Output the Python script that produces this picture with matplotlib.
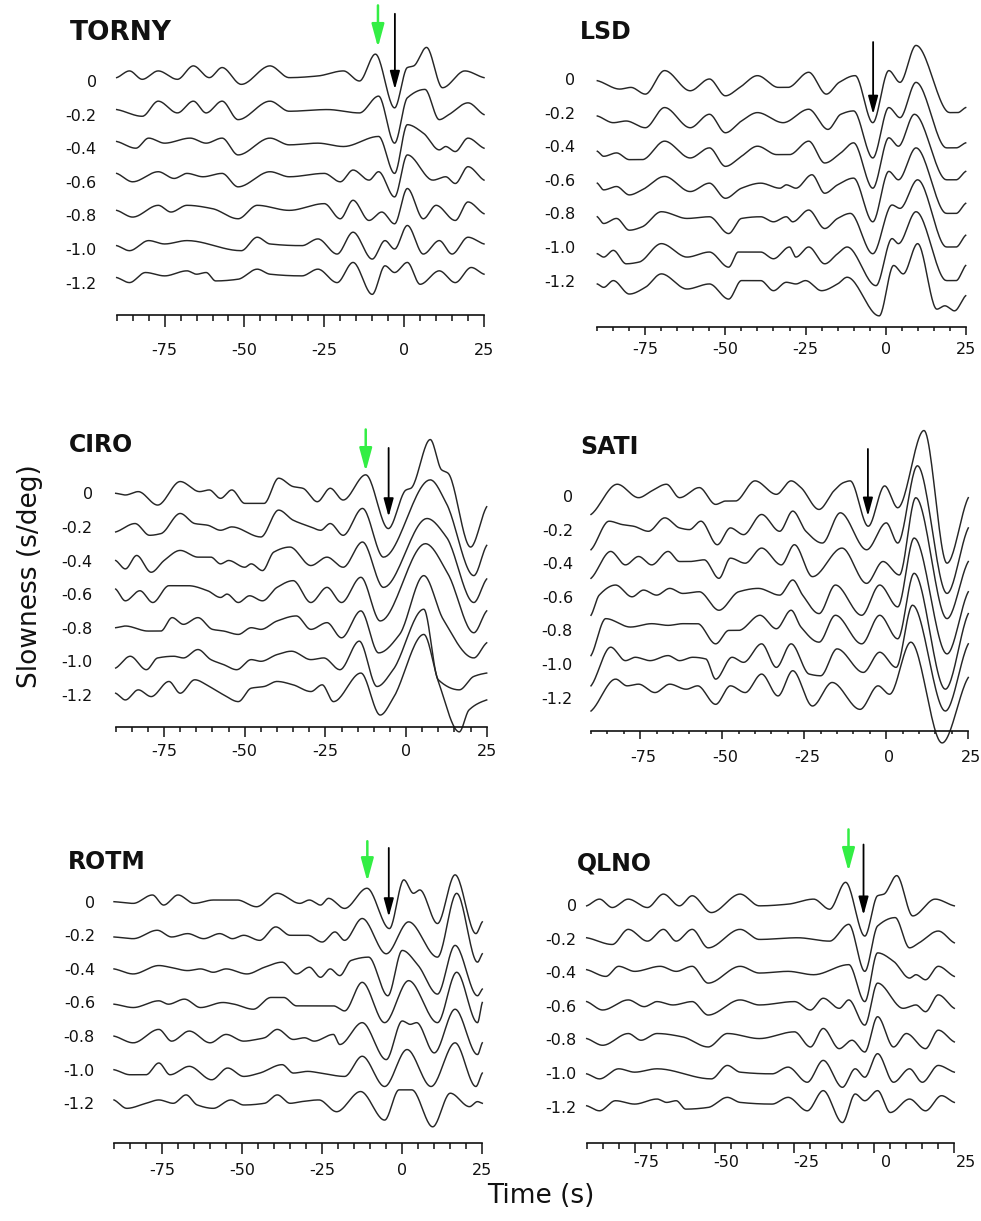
import numpy as np
import matplotlib
matplotlib.use("Agg")
import matplotlib.pyplot as plt
from matplotlib.transforms import ScaledTranslation

# slowness rows (s/deg) and their labels
slowness = [0, -0.2, -0.4, -0.6, -0.8, -1.0, -1.2]
slow_labels = ["0", "-0.2", "-0.4", "-0.6", "-0.8", "-1.0", "-1.2"]
time_major = [-75, -50, -25, 0, 25]
time_minor = list(range(-90, 26, 5))

# traces: knot times (s) and amplitudes (0.01 s/deg) read at the wiggle extrema
torny_t = [
    [-90, -86, -82, -77, -71, -66, -61, -57, -51, -42, -36, -27, -19, -14, -9, -3, 1, 3, 7, 12, 19, 25],
    [-90, -82, -77, -71, -66, -62, -57, -52, -42, -36, -24, -14, -8, -3, 1, 6.5, 11, 14, 20, 25],
    [-90, -84, -80, -75, -67, -62, -57, -52, -42, -36, -27, -19, -8, -3, 1, 6, 11, 13, 16, 20, 25],
    [-90, -85, -77, -72, -68, -63, -57, -52, -42, -36, -25, -20, -16, -11, -8, -3, 1, 9, 13, 16, 20, 25],
    [-90, -85, -77, -73, -68, -60, -52, -46, -36, -25, -20, -16, -11, -7, -3, 1, 6, 10, 16, 20, 25],
    [-90, -86, -80, -75, -68, -51, -46, -42, -32, -27, -21, -16, -10, -6, -3, 1, 6, 11, 15, 20, 25],
    [-90, -86, -81, -75, -68, -65, -62, -59, -52, -46, -42, -32, -27, -21, -16, -10, -6, -3, 1, 5, 11, 16, 21, 25],
]
torny_a = [
    [2, 6, 1, 6, 1, 9, 2, 8, -2, 9, 2, 3, 6, 0, 16, -16, 8, 9, 20, -4, 6, 2],
    [3, -1, 8, 1, 8, 1, 8, -3, 8, 2, 3, 1, 11, -17, 10, 15, -3, 0, 7, 0],
    [4, 0, 6, 3, 6, 3, 6, -4, 6, 2, 3, 1, 7, -15, 14, 9, -1, 1, -2, 6, 0],
    [5, 0, 6, 2, 5, 3, 5, -3, 6, 3, 5, 0, 7, 1, 6, -9, 16, 1, 3, -1, 9, 1],
    [3, -1, 6, 2, 6, 4, -2, 6, 3, 7, -2, 9, -3, 2, -5, 16, -2, 6, -3, 8, 1],
    [2, -1, 5, 3, 5, -1, 7, 3, 2, 6, -3, 10, -6, 5, 0, 14, -3, 5, -3, 7, 3],
    [3, 0, 6, 4, 7, 5, 6, 1, 2, 8, 5, 4, 8, 0, 12, -7, 10, 6, 12, -1, 7, 0, 9, 5],
]

lsd_t = [
    [-90, -83, -79.5, -75, -69, -61, -55, -50, -45.5, -40, -33.5, -30.5, -24, -18.5, -14.5, -9.5, -4, 1, 4.5, 9.5, 20, 22.5, 25],
    [-90, -85, -81, -75, -69, -61, -55, -50, -45, -40, -32, -24, -18, -14, -10, -4, 1, 4.5, 9.5, 19, 22, 25],
    [-90, -88, -84, -80, -76, -69, -61, -55, -50, -45, -40, -34, -30, -24, -19, -14, -10, -4, 1, 4, 9, 19, 22, 25],
    [-90, -88, -84, -80, -76, -69, -61, -55, -50, -45, -39, -33, -31, -28, -23, -19, -15, -10, -4, 1, 4, 9.5, 19, 22, 25],
    [-90, -88, -84, -80, -76, -70, -62, -55, -49, -45, -39, -35, -31, -29, -24, -19, -15, -11, -4, 2, 4.5, 10, 19, 22, 25],
    [-90, -88, -85, -81, -77, -70, -62, -55, -49, -46, -39, -35, -30, -28, -24, -19, -15, -12, -3, 2, 4, 9.5, 19, 22, 25],
    [-90, -88, -85, -80, -75, -70, -62, -55, -49, -45, -39, -35, -31, -28, -25, -20, -15, -12, -2, 2.5, 5.5, 10, 16, 18.5, 21.5, 25],
]
lsd_a = [
    [-1, -6, -5, -9, 5, -7, 0, -10, -5, 2, -5, -5, 4, -9, -2, 2, -26, 5, -2, 20, -20, -20, -17],
    [-2, -6, -5, -9, 3, -9, -1, -12, -5, 0, -6, 2, -10, -1, 1, -27, 3, -3, 18, -21, -21, -18],
    [-3, -6, -4, -8, -8, 3, -7, -1, -12, -6, 0, -5, -5, 3, -10, -4, 2, -25, 5, 0, 19, -20, -20, -15],
    [-2, -6, -4, -9, -6, 2, -7, -2, -11, -5, -2, -5, -3, -5, 3, -8, -3, 1, -25, 5, 0, 19, -20, -20, -14],
    [-2, -6, -3, -10, -8, 1, -3, -2, -12, -3, -2, -5, -2, -5, 2, -9, -3, 0, -24, 5, 3, 20, -20, -20, -13],
    [-4, -6, -2, -10, -9, 2, -6, -3, -12, -3, -3, -7, 0, -6, 0, -10, -4, 0, -23, 5, 2, 21, -20, -20, -11],
    [-2, -4, 0, -8, -4, 4, -5, -2, -11, 0, 0, -6, -1, -2, 0, -6, -2, 2, -21, 9, 4, 22, -17, -15, -18, -9],
]

ciro_t = [
    [-90, -87, -83, -77, -70, -64, -61, -57.5, -54, -50, -44, -39.5, -35, -32, -27.5, -23.5, -19.5, -12.5, -5.5, 0, 1.5, 7.5, 11, 13, 20, 25],
    [-90, -84, -79.5, -76, -70, -65.5, -61.5, -57.5, -54, -45, -39.5, -35, -29.5, -26.5, -23.5, -19.5, -13.5, -7, 7.5, 12.5, 21, 25],
    [-90, -87, -83.5, -79, -75, -70, -64.5, -60.5, -57.5, -55, -50, -48, -44.5, -41, -36, -29.5, -24.5, -19.5, -13.5, -7, 6.5, 12.5, 21, 25],
    [-90, -87, -82.5, -78.5, -73.5, -67.5, -61.5, -57.5, -55.5, -52, -48.5, -44.5, -40, -35, -29.5, -24.5, -20, -14, -8, 6, 13, 21, 25],
    [-90, -87, -80, -76, -72.5, -69, -64.5, -60, -56.5, -52, -48, -45, -40, -34, -29.5, -24.5, -20, -14, -8.5, -2, 5.5, 11.5, 21, 25],
    [-90, -85.5, -80.5, -77, -72, -69, -64.5, -60.5, -56.5, -52.5, -48, -45, -40, -35.5, -29.5, -25.5, -20.5, -14.5, -9, -4, 5.5, 10, 16.5, 21, 25],
    [-90, -87, -83, -79, -73.5, -70, -65.5, -61, -56.5, -52, -48, -44, -40, -35, -29.5, -26, -22.5, -14, -8, -4, 5.5, 10, 16.5, 19.5, 25],
]
ciro_a = [
    [0, -1, 1, -7, 7, 1, 2, -3, 2, -6, -6, 9, 4, 3, -5, 3, -4, 11, -21, 2, 3, 32, 14, 12, -32, -8],
    [-3, 2, -5, -4, 8, 2, 1, -2, 0, -6, 10, 4, 0, -2, 2, -5, 11, -18, 28, 14, -29, -11],
    [0, -5, 3, -7, 0, 6, 2, 2, -2, 0, -4, -2, -6, 5, 8, -3, 2, -4, 11, -16, 25, 14, -25, -11],
    [3, -4, 2, -5, 5, 5, 2, -2, 0, -5, -1, -4, 4, 8, -5, 4, -5, 10, -16, 30, 12, -23, -10],
    [0, 1, -2, -2, 6, 2, 6, -1, -2, -4, 0, -1, 4, 7, -1, 3, -6, 10, -15, -4, 31, 5, -18, -9],
    [-4, 3, -5, 2, 3, 2, 7, 1, -2, -5, 1, 0, 4, 6, 1, 2, -5, 12, -15, -5, 31, -11, -17, -9, -7],
    [1, -3, 3, -1, 8, 1, 9, 5, 0, -4, 4, 5, 8, 6, 2, 6, -4, 13, -12, -2, 36, 8, -22, -9, -3],
]

sati_t = [
    [-90, -82, -75.5, -71.5, -67, -63, -57, -52, -49, -46, -40, -33.5, -29, -26, -20.5, -16, -13, -11, -5.5, -0.5, 3.5, 11.5, 18.5, 25],
    [-90, -84.5, -80.5, -77, -72.5, -67.5, -63, -60, -56.5, -51.5, -47.5, -43.5, -38, -32.5, -28.5, -24.5, -19.5, -14, -6, 0, 3.5, 9.5, 18.5, 25],
    [-90, -84, -79.5, -75.5, -71.5, -66.5, -63, -60, -55.5, -51, -47.5, -43, -38, -32, -28, -22.5, -13.5, -6, -1, 4, 9, 18.5, 25],
    [-90, -87.5, -82.5, -77.5, -74, -70, -66, -62, -57, -51, -45, -39, -32.5, -28.5, -25.5, -20.5, -15.5, -7.5, -2, 3.5, 8.5, 18.5, 25],
    [-90, -85.5, -78, -71.5, -66.5, -62, -57.5, -52, -48, -45, -38.5, -33.5, -29, -26, -20.5, -15.5, -7.5, -2, 3.5, 8.5, 18, 25],
    [-90, -84, -79.5, -76.5, -72, -66.5, -63, -59, -55, -52, -47, -43.5, -38, -33.5, -29, -23.5, -20, -15, -7, -2, 3, 8, 18, 25],
    [-90, -82.5, -79, -75.5, -70.5, -66, -61, -57.5, -52, -47.5, -43, -38, -33, -28.5, -22.5, -16.5, -8, -2.5, 1, 7.5, 17, 25],
]
sati_a = [
    [-11, 7, -1, 3, 7, -1, 5, -5, -3, -3, 9, 1, 9, 5, -8, 3, 8, 9, -18, 6, -7, 39, -40, -1],
    [-12, 5, 3, 2, -1, 7, 1, 0, 5, -9, 1, -3, 9, -1, 11, -1, -8, 10, -12, 4, -8, 38, -38, 1],
    [-9, 7, -1, 4, -1, 7, 1, 1, 2, -9, 3, 0, 9, -1, 11, -8, 9, -12, 1, -7, 39, -33, 1],
    [-11, 1, 7, 0, 4, 1, 5, 2, 3, -8, 3, 5, 1, 10, 1, -10, 7, -11, 7, -6, 35, -34, 3],
    [-15, 7, 2, 4, 3, 4, 4, -8, 0, 0, 9, 1, 12, 2, -7, 9, -8, 9, -5, 34, -35, 10],
    [-13, 10, 2, 4, 2, 5, 2, 4, 3, -9, 4, 1, 12, -2, 12, -6, -7, 9, -5, 7, -2, 35, -28, 12],
    [-8, 11, 7, 8, 3, 8, 5, 7, -4, 7, 3, 14, 1, 16, -5, 9, -7, 7, 2, 33, -27, 12],
]

rotm_t = [
    [-90, -84, -78, -74.5, -70, -65, -59, -51.5, -45.5, -39, -32, -29, -25.5, -23, -18, -11, -4, 0.5, 3.5, 5.5, 11, 16.5, 23, 25],
    [-90, -84, -76.5, -72, -67, -62, -57, -53, -49.5, -44.5, -39.5, -35, -29.5, -25, -21, -18, -12.5, -5, 2, 11, 17, 23.5, 25],
    [-90, -84, -76, -72.5, -67, -63, -59, -55, -48.5, -43, -37.5, -33, -29, -25.5, -22.5, -19.5, -16, -10.5, -4.5, 0, 5, 11, 16.5, 23.5, 25],
    [-90, -84, -76, -73, -68, -63, -56, -52.5, -46.5, -41, -37, -33, -21.5, -18, -12.5, -5.5, 2, 11, 17, 23.5, 25],
    [-90, -84, -76, -72, -66.5, -60, -55, -49.5, -45.5, -43, -39, -34, -30.5, -27.5, -21.5, -19.5, -12.5, -5, 0, 2.5, 4.5, 10, 16.5, 23.5, 25],
    [-90, -85, -80, -76, -72.5, -66.5, -59.5, -54.5, -49.5, -44.5, -37.5, -34, -29.5, -25.5, -18, -12.5, -5.5, 1.5, 9, 16.5, 23, 25],
    [-90, -86, -80, -76, -71.5, -67.5, -64, -59, -53.5, -49.5, -43, -39, -35, -31.5, -26, -20.5, -13, -5.5, -1, 3, 9.5, 15, 21, 23.5, 25],
]
rotm_a = [
    [0, -1, 4, -2, 4, -1, 1, 1, -3, 5, -1, 1, -2, 2, -4, 8, -16, 13, 5, 7, -13, 16, -19, -12],
    [-1, -2, 3, -1, 1, -2, 1, -2, 0, -3, 5, 0, 0, -4, 2, -3, 10, -11, 8, -13, 25, -16, -11],
    [0, -3, 2, 1, -1, 0, -2, 0, -3, 1, 4, -3, 1, -5, 0, -4, 5, 7, -16, 11, 2, -15, 14, -16, -12],
    [-1, -3, 1, -1, 2, -3, 0, -1, -4, 3, 3, -2, -2, -5, 12, -12, 13, -12, 18, -12, 0],
    [0, -4, 4, -3, 3, -4, 1, -3, -2, -1, 4, -2, -1, -3, 1, -5, 8, -14, 9, 7, 8, -10, 16, -11, -4],
    [0, -3, -3, 4, -3, 2, -6, 1, -4, -2, 3, -2, -1, -2, -4, 8, -10, 12, -10, 16, -10, -2],
    [2, -3, 0, 2, 0, 5, -1, -3, 2, -1, 0, 5, 0, 1, 2, -5, 7, -10, 8, 8, -14, 6, -2, 1, 0],
]

# QLNO shows the same waveforms as TORNY in the picture
qlno_t = torny_t
qlno_a = torny_a

# arrows: (time, top, tip) in s/deg
torny_green = (-8.2, 0.45, 0.20)
torny_black = (-2.9, 0.40, -0.05)
lsd_black = (-3.9, 0.22, -0.21)
ciro_green = (-12.5, 0.38, 0.13)
ciro_black = (-5.4, 0.27, -0.14)
sati_black = (-5.6, 0.28, -0.12)
rotm_green = (-10.9, 0.36, 0.12)
rotm_black = (-4.2, 0.32, -0.09)
qlno_green = (-8.1, 0.45, 0.20)
qlno_black = (-3.4, 0.36, -0.06)

W, H = 981, 1221
PPU = 168.0   # pixels per 1 s/deg
TOP = 0.47
PT = 100 / 72.0
LINE = "#262626"
GREEN = "#33ee44"

fig = plt.figure(figsize=(W / 100, H / 100), dpi=100)


def wiggle(tk, ak, n=24):
    # monotone cubic (pchip style) through the read knots
    t = np.asarray(tk, float)
    a = np.asarray(ak, float)
    h = np.diff(t)
    d = np.diff(a) / h
    m = np.zeros_like(a)
    for k in range(1, len(a) - 1):
        if d[k - 1] * d[k] > 0:
            w1 = 2 * h[k] + h[k - 1]
            w2 = h[k] + 2 * h[k - 1]
            m[k] = (w1 + w2) / (w1 / d[k - 1] + w2 / d[k])
    m[0] = d[0] * 0.6
    m[-1] = d[-1] * 0.6
    xs, ys = [], []
    for i in range(len(t) - 1):
        u = np.linspace(0, 1, n, endpoint=False)
        h00 = 2 * u**3 - 3 * u**2 + 1
        h10 = u**3 - 2 * u**2 + u
        h01 = -2 * u**3 + 3 * u**2
        h11 = u**3 - u**2
        xs.append(t[i] + h[i] * u)
        ys.append(h00 * a[i] + h10 * h[i] * m[i] + h01 * a[i + 1] + h11 * h[i] * m[i + 1])
    xs.append([t[-1]])
    ys.append([a[-1]])
    return np.concatenate(xs), np.concatenate(ys)


def panel(name, tt, aa, arrows, x0, x1, yz, yax, title_xy, title_size,
          major, minor, lab_off, ylab_gap, lab_shift=0, yshift=0.0):
    ytop = yz - TOP * PPU
    ax = fig.add_axes([x0 / W, 1 - yax / H, (x1 - x0) / W, (yax - ytop) / H])
    ax.set_xlim(-90, 25)
    ax.set_ylim(-(yax - yz) / PPU, TOP)
    for s, tk, ak in zip(slowness, tt, aa):
        assert len(tk) == len(ak)
        x, y = wiggle(tk, ak)
        ax.plot(x, s + y / 100 + yshift, color=LINE, lw=1.05, clip_on=False)
    for t, top, tip, col in arrows:
        if col == GREEN:
            style = "-|>,head_length=1.4,head_width=0.38"
            lw = 1.8
        else:
            style = "-|>,head_length=1.1,head_width=0.3"
            lw = 1.3
        ax.annotate("", xy=(t, tip), xytext=(t, top), annotation_clip=False,
                    arrowprops=dict(arrowstyle=style, color=col, lw=lw, shrinkA=0, shrinkB=0))
    for side in ["left", "top", "right"]:
        ax.spines[side].set_visible(False)
    ax.spines["bottom"].set_linewidth(1.2)
    ax.spines["bottom"].set_color("#111111")
    ax.patch.set_alpha(0)
    ax.set_xticks(time_major)
    ax.set_xticks(time_minor, minor=True)
    ax.set_xticklabels([str(v) for v in time_major])
    ax.tick_params(axis="x", which="major", length=major / PT, width=1.1,
                   pad=(lab_off - major - 6.6) / PT, labelsize=11.5, colors="#111111")
    ax.tick_params(axis="x", which="minor", length=minor / PT, width=1.1, colors="#111111")
    ax.set_yticks(slowness)
    ax.set_yticklabels(slow_labels)
    ax.tick_params(axis="y", length=0, pad=ylab_gap / PT, labelsize=11.5, colors="#111111")
    if lab_shift:
        off = ScaledTranslation(lab_shift / 100, 0, fig.dpi_scale_trans)
        for lab in ax.get_xticklabels():
            lab.set_transform(lab.get_transform() + off)
    fig.text(title_xy[0] / W, 1 - title_xy[1] / H, name, ha="left", va="center",
             fontsize=title_size, fontweight="bold", color="#111111")
    return ax


panel("TORNY", torny_t, torny_a,
      [(*torny_green, GREEN), (*torny_black, "black")],
      116.7, 484, 81, 315, (70, 33), 19, 12, 5.7, 35, 20)
panel("LSD", lsd_t, lsd_a, [(*lsd_black, "black")],
      597.3, 965.7, 79, 326.7, (580, 32), 17, 8, 4, 21.5, 22)
panel("CIRO", ciro_t, ciro_a,
      [(*ciro_green, GREEN), (*ciro_black, "black")],
      115.7, 486.7, 493.3, 726.7, (69, 445), 17, 10, 5, 24, 23)
panel("SATI", sati_t, sati_a, [(*sati_black, "black")],
      591, 968.3, 496, 730.7, (580, 447), 17, 7.7, 3.3, 26, 18, lab_shift=3)
panel("ROTM", rotm_t, rotm_a,
      [(*rotm_green, GREEN), (*rotm_black, "black")],
      114, 482.3, 901.7, 1142.7, (68, 862), 17, 10.7, 5.7, 26.6, 19)
panel("QLNO", qlno_t, qlno_a,
      [(*qlno_green, GREEN), (*qlno_black, "black")],
      586.7, 954.3, 905, 1142.7, (577, 863), 17, 10, 5.7, 19, 10,
      lab_shift=12, yshift=-0.025)

fig.text(30 / W, 1 - 576 / H, "Slowness (s/deg)", rotation=90, ha="center", va="center",
         fontsize=19, color="#111111")
fig.text(541 / W, 1 - 1196 / H, "Time (s)", ha="center", va="center",
         fontsize=19, color="#111111")

fig.savefig("out.png", dpi=100)
